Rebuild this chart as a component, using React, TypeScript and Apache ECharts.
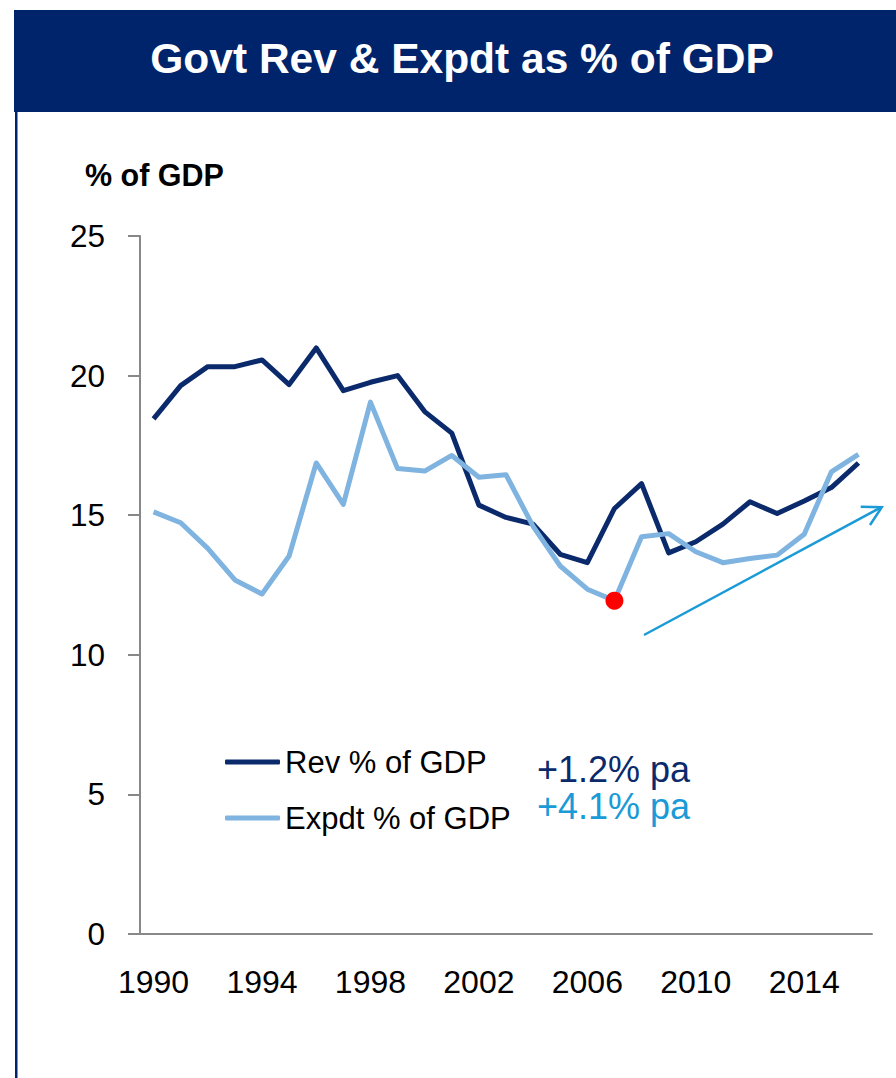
import React, { useEffect, useRef } from "react";
import * as echarts from "echarts";

const TITLE = "Govt Rev & Expdt as % of GDP";
const Y_UNIT = "% of GDP";
const YEARS = [
  "1990", "1991", "1992", "1993", "1994", "1995", "1996", "1997", "1998", "1999",
  "2000", "2001", "2002", "2003", "2004", "2005", "2006", "2007", "2008", "2009",
  "2010", "2011", "2012", "2013", "2014", "2015", "2016",
];
const REV = [
  18.45, 19.64, 20.32, 20.32, 20.56, 19.68, 20.99, 19.46, 19.76, 20.0,
  18.71, 17.94, 15.36, 14.92, 14.68, 13.6, 13.3, 15.24, 16.13, 13.65,
  14.05, 14.68, 15.48, 15.06, 15.51, 15.99, 16.87,
];
const EXP = [
  15.12, 14.73, 13.81, 12.68, 12.18, 13.54, 16.87, 15.39, 19.05, 16.67,
  16.58, 17.14, 16.36, 16.45, 14.6, 13.18, 12.35, 11.94, 14.23, 14.34,
  13.69, 13.3, 13.45, 13.57, 14.32, 16.55, 17.18,
];
const SERIES_NAMES = ["Rev % of GDP", "Expdt % of GDP"];
const GROWTH_LABELS = ["+1.2% pa", "+4.1% pa"];
const LOW_POINT_INDEX = 17;

const FONT = "'Liberation Sans', Arial, sans-serif";
const NAVY = "#00246b";
const REV_COLOR = "#0b2a6c";
const EXP_COLOR = "#7fb3e0";
const CYAN = "#1a9ad6";

export default function App() {
  const ref = useRef<HTMLDivElement>(null);
  useEffect(() => {
    if (!ref.current) return;
    const chart = echarts.init(ref.current, null, { renderer: "svg" });
    chart.setOption({
      animation: false,
      backgroundColor: "#ffffff",
      textStyle: { fontFamily: FONT },
      grid: { left: 140, right: 24, top: 236, bottom: 144, containLabel: false },
      legend: {
        data: SERIES_NAMES,
        orient: "vertical",
        left: 225,
        top: 742,
        padding: 0,
        icon: "roundRect",
        itemWidth: 55,
        itemHeight: 5,
        itemGap: 16,
        textStyle: { fontSize: 31, lineHeight: 40, color: "#000", fontFamily: FONT },
        selectedMode: false,
      },
      xAxis: {
        type: "category",
        data: YEARS,
        boundaryGap: true,
        axisLine: { lineStyle: { color: "#888888", width: 2 } },
        axisTick: { interval: 3, length: 12, lineStyle: { color: "#888888", width: 2 } },
        axisLabel: { interval: 3, margin: 32, fontSize: 32, color: "#000", fontFamily: FONT },
        splitLine: { show: false },
      },
      yAxis: {
        type: "value",
        min: 0,
        max: 25,
        interval: 5,
        axisLine: { show: true, lineStyle: { color: "#888888", width: 2 } },
        axisTick: { show: true, length: 12, lineStyle: { color: "#888888", width: 2 } },
        axisLabel: { margin: 35, fontSize: 31.5, color: "#000", fontFamily: FONT },
        splitLine: { show: false },
      },
      series: [
        {
          name: SERIES_NAMES[0],
          type: "line",
          data: REV,
          symbol: "none",
          lineStyle: { color: REV_COLOR, width: 5, join: "round" },
          itemStyle: { color: REV_COLOR },
        },
        {
          name: SERIES_NAMES[1],
          type: "line",
          data: EXP,
          symbol: "none",
          lineStyle: { color: EXP_COLOR, width: 5, join: "round" },
          itemStyle: { color: EXP_COLOR },
          markPoint: {
            symbol: "circle",
            symbolSize: 18,
            label: { show: false },
            itemStyle: { color: "#ff0000" },
            data: [{ coord: [YEARS[LOW_POINT_INDEX], EXP[LOW_POINT_INDEX]] }],
          },
        },
      ],
      graphic: [
        { type: "rect", shape: { x: 14, y: 10, width: 882, height: 102 }, style: { fill: NAVY } },
        { type: "rect", shape: { x: 15, y: 112, width: 2.5, height: 966 }, style: { fill: NAVY } },
        {
          type: "text",
          x: 462,
          y: 58,
          style: {
            text: TITLE,
            fill: "#ffffff",
            font: `bold 42.5px ${FONT}`,
            textAlign: "center",
            textVerticalAlign: "middle",
          },
        },
        {
          type: "text",
          x: 85,
          y: 175,
          style: {
            text: Y_UNIT,
            fill: "#000",
            font: `bold 30.5px ${FONT}`,
            textAlign: "left",
            textVerticalAlign: "middle",
          },
        },
        {
          type: "text",
          x: 537,
          y: 769,
          style: {
            text: GROWTH_LABELS[0],
            fill: REV_COLOR,
            font: `36px ${FONT}`,
            textAlign: "left",
            textVerticalAlign: "middle",
          },
        },
        {
          type: "text",
          x: 537,
          y: 806,
          style: {
            text: GROWTH_LABELS[1],
            fill: CYAN,
            font: `36px ${FONT}`,
            textAlign: "left",
            textVerticalAlign: "middle",
          },
        },
        {
          type: "line",
          shape: { x1: 644, y1: 635, x2: 881, y2: 507.3 },
          style: { stroke: CYAN, lineWidth: 2.5 },
        },
        {
          type: "polyline",
          shape: { points: [[860.7, 506.7], [881.7, 507.3], [870, 525]] },
          style: { stroke: CYAN, lineWidth: 2.5, fill: null },
        },
      ],
    });
    return () => chart.dispose();
  }, []);
  return (
    <div
      ref={ref}
      style={{ position: "absolute", left: 0, top: 0, width: 896, height: 1078, background: "#fff" }}
    />
  );
}
